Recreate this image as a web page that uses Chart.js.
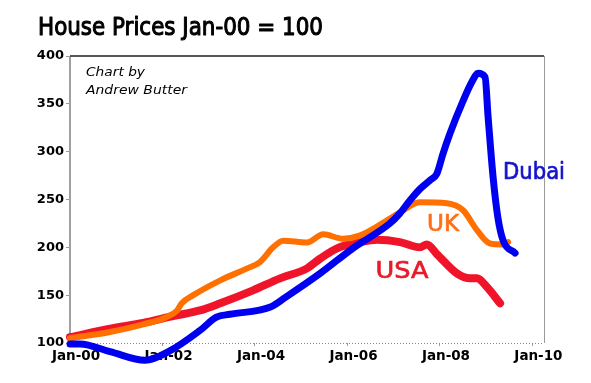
<!DOCTYPE html>
<html>
<head>
<meta charset="utf-8">
<script src="https://cdn.jsdelivr.net/npm/chart.js@4.4.1/dist/chart.umd.min.js"></script>
<style>
  html, body { margin: 0; padding: 0; background: #ffffff; }
  #wrap { width: 591px; height: 383px; position: relative; }
</style>
</head>
<body>
<div id="wrap"><canvas id="c" width="591" height="383"></canvas></div>
<script>
// Months since Jan-00 and index values (Jan-00 = 100)
const dubaiMonths = [0, 2.6, 10.4, 19.5, 26, 33.7, 38, 41.5, 52, 56, 65, 73.4, 83, 85.6, 88.2, 90.8, 93.4, 95.2, 96.8, 98.6, 102, 104.3, 105.9, 107.7, 108.5, 109.8, 111, 112.4, 115.5];
const dubaiValues = [99, 99, 91, 82, 92, 113, 127, 130, 137.6, 148, 173, 199, 225, 235.5, 249, 261, 270, 277, 298, 319, 353, 373, 382, 378, 336, 273, 232, 207, 194];

const ukMonths = [0, 10.4, 19, 25, 27.8, 29, 32, 39, 46, 49.3, 52.7, 55.3, 61.5, 65.7, 70.8, 75.3, 83, 86.4, 90.8, 97.8, 102, 105.6, 109, 112.4, 113.7];
const ukValues = [105, 111.5, 119.5, 127, 134, 141.5, 150, 165.5, 178, 184.6, 200, 207, 205, 213.6, 209, 212.5, 230, 238.7, 247, 246, 238.7, 218, 204, 203, 205.5];

const usaMonths = [0, 10.4, 19, 26.7, 33.7, 39, 47.5, 54.5, 61.5, 65, 69.3, 75.3, 79.7, 85.6, 90.8, 92.6, 95.2, 100.4, 103.8, 105.6, 108.2, 111.6];
const usaValues = [106, 115, 121, 128, 134, 141.5, 155, 167.6, 178, 188.5, 199, 205.5, 208, 205.5, 200, 203, 193, 172.8, 167.6, 167.6, 158.5, 141.5];

const xTickMonths = [0, 24, 48, 72, 96, 120];
const xTickLabels = ['Jan-00', 'Jan-02', 'Jan-04', 'Jan-06', 'Jan-08', 'Jan-10'];
const yTicks = [100, 150, 200, 250, 300, 350, 400];

const titleText = 'House Prices Jan-00 = 100';
const creditLines = ['Chart by', 'Andrew Butter'];
const seriesNames = ['Dubai', 'UK', 'USA'];

function pts(xs, ys) { return xs.map((x, i) => ({ x: x, y: ys[i] })); }

const FONT = '"Comic Sans MS", "DejaVu Sans", sans-serif';

// draw text squeezed/stretched horizontally to a target width, optionally thickened
function fitText(ctx, text, x, y, width, align, thick) {
  const w = ctx.measureText(text).width;
  const sx = width / w;
  ctx.save();
  ctx.translate(x, y);
  ctx.scale(sx, 1);
  ctx.textAlign = align;
  ctx.fillText(text, 0, 0);
  if (thick) {
    ctx.strokeStyle = ctx.fillStyle;
    ctx.lineWidth = thick;
    ctx.lineJoin = 'round';
    ctx.strokeText(text, 0, 0);
  }
  ctx.restore();
}

const decor = {
  id: 'decor',
  beforeDatasetsDraw(chart) {
    const a = chart.chartArea, ctx = chart.ctx;
    ctx.save();
    ctx.strokeStyle = '#8a8a8a'; ctx.lineWidth = 1; ctx.setLineDash([1, 2]);
    ctx.beginPath(); ctx.moveTo(a.left, a.bottom + 0.5); ctx.lineTo(a.right, a.bottom + 0.5); ctx.stroke();
    ctx.setLineDash([]);
    ctx.strokeStyle = '#9a9a9a'; ctx.lineWidth = 1;
    ctx.beginPath(); ctx.moveTo(a.right + 0.5, a.top); ctx.lineTo(a.right + 0.5, a.bottom); ctx.stroke();
    ctx.strokeStyle = '#a0a0a0'; ctx.lineWidth = 2;
    ctx.beginPath(); ctx.moveTo(a.left, a.top); ctx.lineTo(a.left, a.bottom); ctx.stroke();
    ctx.strokeStyle = '#555555'; ctx.lineWidth = 2;
    ctx.beginPath(); ctx.moveTo(a.left, a.top); ctx.lineTo(a.right, a.top); ctx.stroke();
    ctx.restore();
  },
  afterDraw(chart) {
    const ctx = chart.ctx;
    ctx.save();
    ctx.textBaseline = 'middle';
    ctx.fillStyle = '#000000';
    ctx.font = '25px ' + FONT;
    fitText(ctx, titleText, 38, 28, 285, 'left', 1.1);
    ctx.font = 'italic 13px ' + FONT;
    fitText(ctx, creditLines[0], 86, 73, 59, 'left', 0);
    fitText(ctx, creditLines[1], 86, 91, 101, 'left', 0);
    ctx.font = '23px ' + FONT;
    ctx.fillStyle = '#1414cc';
    fitText(ctx, seriesNames[0], 534, 173, 62, 'center', 0.7);
    ctx.fillStyle = '#ff7014';
    fitText(ctx, seriesNames[1], 443, 225, 32, 'center', 0.7);
    ctx.fillStyle = '#ea1a2a';
    fitText(ctx, seriesNames[2], 402, 272, 53, 'center', 0.7);
    ctx.restore();
  }
};

new Chart(document.getElementById('c'), {
  type: 'line',
  data: {
    datasets: [
      { label: seriesNames[0], data: pts(dubaiMonths, dubaiValues), borderColor: '#0000f0', borderWidth: 7, clip: false, order: 0 },
      { label: seriesNames[1], data: pts(ukMonths, ukValues), borderColor: '#ff7000', borderWidth: 6, clip: false, order: 1 },
      { label: seriesNames[2], data: pts(usaMonths, usaValues), borderColor: '#f0142a', borderWidth: 8, clip: false, order: 2 }
    ]
  },
  options: {
    responsive: false,
    animation: false,
    devicePixelRatio: 1,
    layout: { padding: { left: 0, top: 56, right: 47, bottom: 10 } },
    elements: {
      point: { radius: 0 },
      line: { tension: 0.4, cubicInterpolationMode: 'monotone', borderCapStyle: 'round', borderJoinStyle: 'round', fill: false }
    },
    plugins: { legend: { display: false }, tooltip: { enabled: false }, title: { display: false } },
    scales: {
      x: {
        type: 'linear', min: 0, max: 123,
        afterFit(s) { s.height = 30; },
        afterBuildTicks(s) { s.ticks = xTickMonths.map(v => ({ value: v })); },
        border: { display: false },
        grid: { drawOnChartArea: false, tickLength: 3, color: '#9a9a9a' },
        ticks: {
          autoSkip: false, maxRotation: 0, labelOffset: 6, padding: 2,
          color: '#000000', font: { family: FONT, size: 13.5, weight: 'bold' },
          callback(v) { const i = xTickMonths.indexOf(v); return i >= 0 ? xTickLabels[i] : ''; }
        }
      },
      y: {
        type: 'linear', min: 100, max: 400,
        afterFit(s) { s.width = 70; },
        afterBuildTicks(s) { s.ticks = yTicks.map(v => ({ value: v })); },
        border: { display: false },
        grid: { drawOnChartArea: false, tickLength: 4, color: '#9a9a9a' },
        ticks: { color: '#000000', padding: 2, font: { family: FONT, size: 13, weight: 'bold' } }
      }
    }
  },
  plugins: [decor]
});
</script>
</body>
</html>
